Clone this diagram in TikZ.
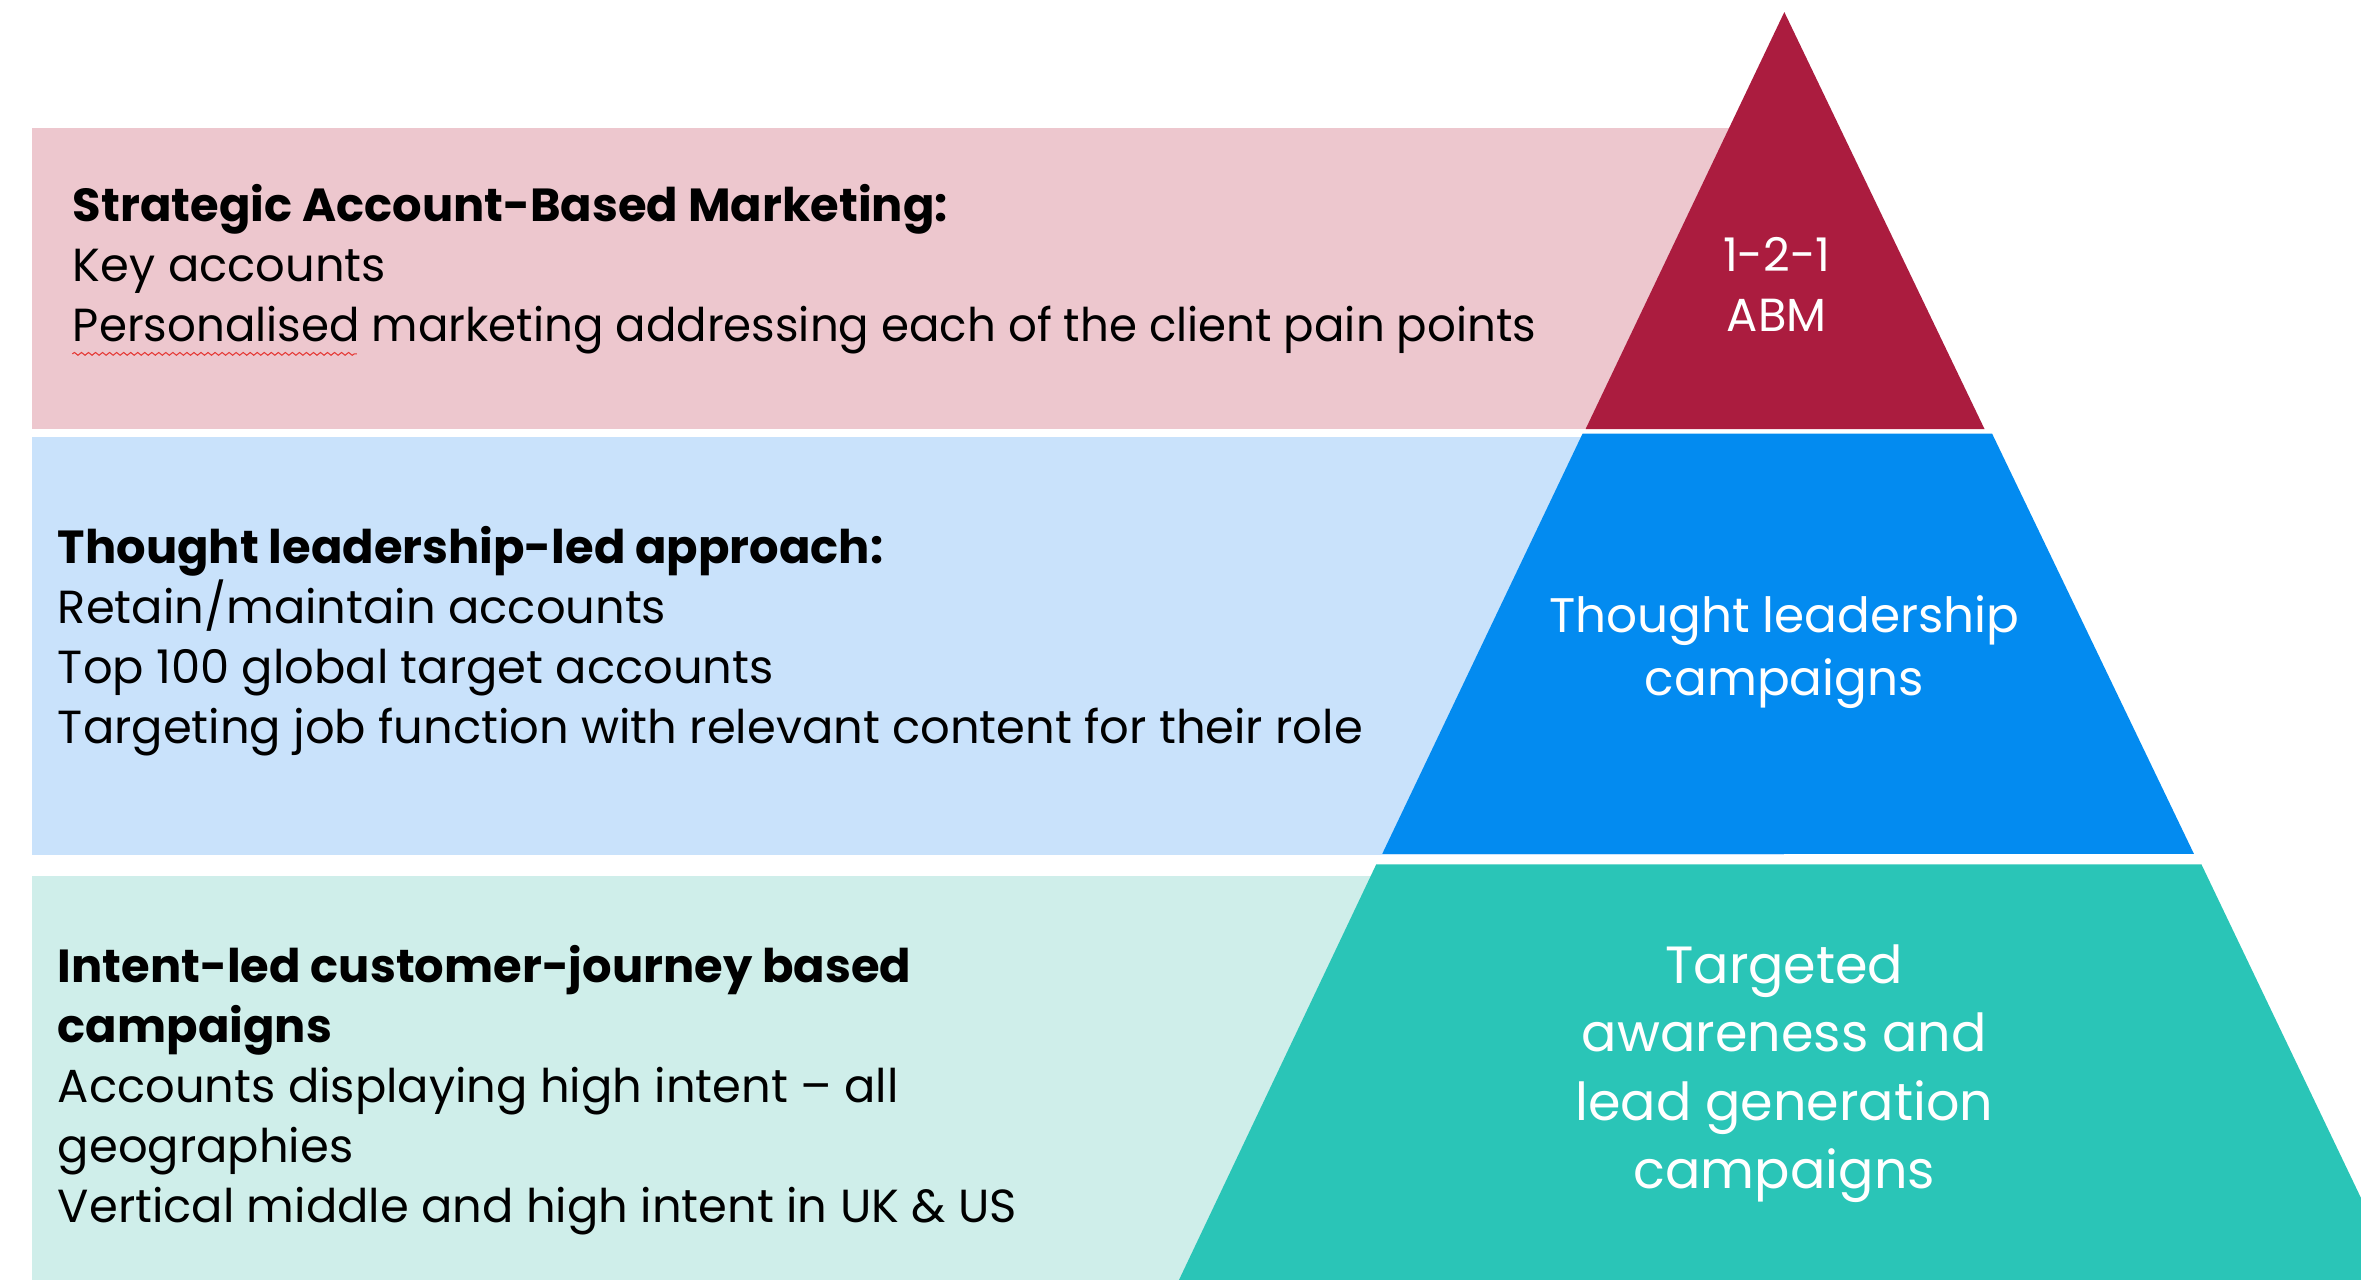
\documentclass[tikz,border=0pt]{standalone}
\usepackage{fontspec}
\setmainfont{Poppins}
\usetikzlibrary{decorations.pathmorphing}
\definecolor{abmcol}{HTML}{AB1C3F}
\definecolor{abmband}{HTML}{EDC7CE}
\definecolor{tlcol}{HTML}{038BF0}
\definecolor{tlband}{HTML}{C9E2FB}
\definecolor{leadcol}{HTML}{2AC5B7}
\definecolor{leadband}{HTML}{CFEEEA}
\definecolor{spellcol}{HTML}{E53935}

\begin{document}
\begin{tikzpicture}[
    x=0.15057mm, y=-0.15057mm,
    band/.style={draw=none},
    tier/.style={draw=none},
    bandtext/.style={
        anchor=west, align=left, inner sep=0pt, text=black,
        font=\fontsize{13.2}{17.1}\selectfont
    },
    tiertext/.style={
        align=center, inner sep=0pt, text=white,
        font=\fontsize{13.2}{17.1}\selectfont
    },
]
\useasboundingbox (0,0) rectangle (1568,850);
\clip (0,0) rectangle (1568,850);

% ── Background bands ──
\fill[band, abmband]  (21,85)  rectangle (1185,285);
\fill[band, tlband]   (21,290) rectangle (1185,568);
\fill[band, leadband] (21,582) rectangle (1185,850);

% ── Pyramid tiers ──
\fill[tier, abmcol]  (1185,8) -- (1318,285) -- (1053,285) -- cycle;
\fill[tier, tlcol]   (1051,288) -- (1323,288) -- (1457,567) -- (918,567) -- cycle;
\fill[tier, leadcol] (914,574) -- (1462,574) -- (1594,850) -- (783,850) -- cycle;

% ── Band descriptions ──
\node[bandtext] (abmtext) at (48,179)
    {\textbf{Strategic Account-Based Marketing:}\\
     Key accounts\\
     \scalebox{0.972}[1]{Personalised marketing addressing each of the client pain points}};
\draw[spellcol, line width=0.3pt, decorate,
      decoration={snake, amplitude=0.4pt, segment length=2pt}]
    (48,235) -- (237,235);

\node[bandtext] (tltext) at (38,426)
    {\textbf{Thought leadership-led approach:}\\
     Retain/maintain accounts\\
     Top 100 global target accounts\\
     Targeting job function with relevant content for their role};

\node[bandtext] (leadtext) at (38,724)
    {\textbf{Intent-led customer-journey based}\\
     \textbf{campaigns}\\
     Accounts displaying high intent -- all\\
     geographies\\
     Vertical middle and high intent in UK \& US};

% ── Tier labels ──
\node[tiertext] (abmlabel) at (1180,189) {1-2-1\\ABM};
\node[tiertext, font=\fontsize{13.8}{17.7}\selectfont] (tllabel) at (1185,433)
    {Thought leadership\\campaigns};
\node[tiertext, font=\fontsize{14.9}{19.4}\selectfont] (leadlabel) at (1185,713)
    {Targeted\\awareness and\\lead generation\\campaigns};

\end{tikzpicture}
\end{document}
